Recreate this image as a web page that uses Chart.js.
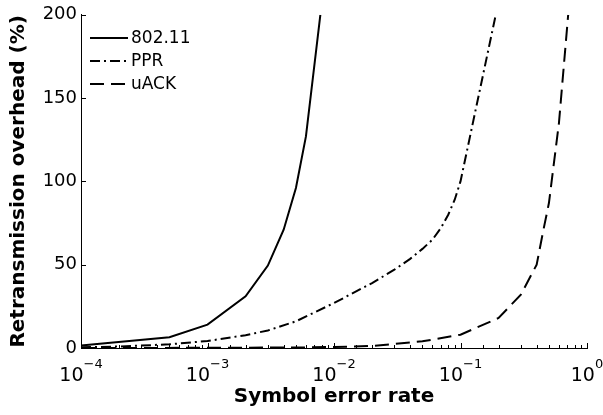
<!DOCTYPE html>
<html>
<head>
<meta charset="utf-8">
<script src="https://cdn.jsdelivr.net/npm/chart.js@4"></script>
<style>
  html, body { margin: 0; padding: 0; background: #fff; }
  #wrap { width: 603px; height: 415px; }
</style>
</head>
<body>
<div id="wrap"><canvas id="overhead-chart" width="603" height="415"></canvas></div>
<script>
// Symbol error rate (x) and retransmission overhead in % (y)
const ser80211 = [1e-4, 5e-4, 1e-3, 2e-3, 3e-3, 4e-3, 5e-3, 6e-3, 7.8e-3];
const ovh80211 = [1.5, 6.5, 14, 31, 49.5, 71, 96, 127, 200];

const serPPR = [1e-4, 2e-4, 5e-4, 1e-3, 2e-3, 3e-3, 5e-3, 1e-2, 2e-2, 3e-2, 4e-2, 5e-2, 6e-2, 7e-2, 8e-2, 9e-2, 0.1, 0.19];
const ovhPPR = [0.4, 0.9, 2.2, 4.2, 7.7, 10.5, 16, 27, 39, 47, 53.5, 59.5, 65, 72, 80, 89, 100, 200];

const serUACK = [1e-4, 1e-3, 5e-3, 1e-2, 2e-2, 5e-2, 0.1, 0.2, 0.3, 0.4, 0.45, 0.5, 0.6, 0.71];
const ovhUACK = [0, 0.1, 0.3, 0.6, 1.2, 4, 8, 18, 32, 50, 70, 87, 135, 200];

const seriesNames = ['802.11', 'PPR', 'uACK'];
const yTicks = [0, 50, 100, 150, 200];

const FONT = '"DejaVu Sans", "Liberation Sans", Arial, sans-serif';

const toPoints = (xs, ys) => xs.map((x, i) => ({ x: x, y: ys[i] }));

const isDecade = (v) => Math.abs(Math.log10(v) - Math.round(Math.log10(v))) < 1e-9;

// ticks pointing inwards, 10^k labels and the legend inside the plot
const axisDecor = {
    id: 'axisDecor',
    afterDraw(chart) {
        const { ctx, chartArea, scales: { x, y } } = chart;
        ctx.save();
        ctx.strokeStyle = '#000';
        ctx.lineWidth = 1;
        ctx.setLineDash([]);
        ctx.beginPath();
        x.ticks.forEach(t => {
            const px = Math.round(x.getPixelForValue(t.value)) + 0.5;
            const len = isDecade(t.value) ? 5 : 3;
            ctx.moveTo(px, chartArea.bottom);
            ctx.lineTo(px, chartArea.bottom - len);
        });
        y.ticks.forEach(t => {
            const py = Math.round(y.getPixelForValue(t.value)) + 0.5;
            ctx.moveTo(chartArea.left, py);
            ctx.lineTo(chartArea.left + 5, py);
        });
        ctx.stroke();

        // x tick labels: 10 with superscript exponent
        ctx.fillStyle = '#000';
        ctx.textBaseline = 'alphabetic';
        ctx.textAlign = 'left';
        x.ticks.filter(t => isDecade(t.value)).forEach(t => {
            const px = x.getPixelForValue(t.value);
            const e = Math.round(Math.log10(t.value));
            const expText = e < 0 ? '\u2212' + Math.abs(e) : String(e);
            ctx.font = '19px ' + FONT;
            const wBase = ctx.measureText('10').width;
            ctx.font = '13px ' + FONT;
            const wExp = ctx.measureText(expText).width;
            const x0 = px - (wBase + wExp) / 2;
            ctx.font = '19px ' + FONT;
            ctx.fillText('10', x0, 381);
            ctx.font = '13px ' + FONT;
            ctx.fillText(expText, x0 + wBase, 368);
        });

        // legend
        ctx.font = '17px ' + FONT;
        ctx.textBaseline = 'middle';
        chart.data.datasets.forEach((ds, i) => {
            const ly = 38 + i * 23;
            ctx.lineWidth = ds.borderWidth;
            ctx.setLineDash(ds.borderDash || []);
            ctx.beginPath();
            ctx.moveTo(90, ly);
            ctx.lineTo(128, ly);
            ctx.stroke();
            ctx.setLineDash([]);
            ctx.fillText(ds.label, 131, ly + 1);
        });
        ctx.restore();
    }
};

const ctx = document.getElementById('overhead-chart').getContext('2d');
const chart = new Chart(ctx, {
    type: 'line',
    data: {
        datasets: [{
            label: seriesNames[0],
            data: toPoints(ser80211, ovh80211),
            borderColor: '#000',
            borderWidth: 2,
            borderDash: [],
            pointRadius: 0,
            tension: 0,
            fill: false
        }, {
            label: seriesNames[1],
            data: toPoints(serPPR, ovhPPR),
            borderColor: '#000',
            borderWidth: 2,
            borderDash: [10, 4, 2, 4],
            pointRadius: 0,
            tension: 0,
            fill: false
        }, {
            label: seriesNames[2],
            data: toPoints(serUACK, ovhUACK),
            borderColor: '#000',
            borderWidth: 2,
            borderDash: [14, 7],
            pointRadius: 0,
            tension: 0,
            fill: false
        }]
    },
    plugins: [axisDecor],
    options: {
        responsive: false,
        animation: false,
        layout: { padding: { top: 12, right: 16, left: 0, bottom: 0 } },
        plugins: {
            legend: { display: false },
            tooltip: { enabled: false }
        },
        scales: {
            x: {
                type: 'logarithmic',
                min: 1e-4,
                max: 1,
                grid: { display: false, drawTicks: false },
                border: { display: true, color: '#000', width: 1 },
                ticks: { display: false, autoSkip: false },
                title: {
                    display: true,
                    text: 'Symbol error rate',
                    color: '#000',
                    font: { family: FONT, size: 20, weight: 'bold' },
                    padding: { top: 0, bottom: 6 }
                },
                afterFit: (scale) => { scale.height = 67; }
            },
            y: {
                min: 0,
                max: 200,
                afterBuildTicks: (scale) => { scale.ticks = yTicks.map(v => ({ value: v })); },
                grid: { display: false, drawTicks: false },
                border: { display: true, color: '#000', width: 1 },
                ticks: {
                    color: '#000',
                    padding: 4,
                    font: { family: FONT, size: 18 }
                },
                title: {
                    display: true,
                    text: 'Retransmission overhead (%)',
                    color: '#000',
                    font: { family: FONT, size: 20, weight: 'bold' },
                    padding: { top: 7, bottom: 0 }
                },
                afterFit: (scale) => { scale.width = 81; }
            }
        }
    }
});
</script>
</body>
</html>
